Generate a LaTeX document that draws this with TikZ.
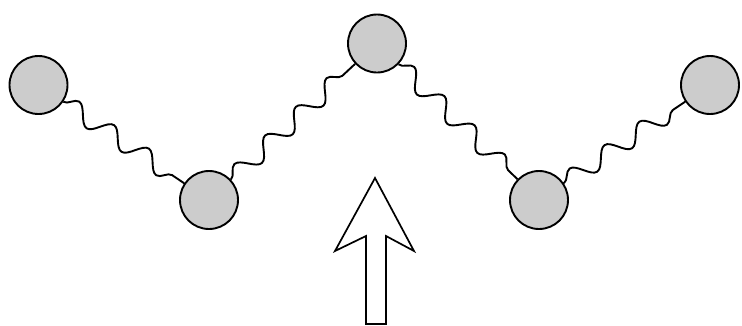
\documentclass[tikz,border=0pt]{standalone}
\usetikzlibrary{decorations.pathmorphing}
\begin{document}
\begin{tikzpicture}[x=1pt,y=-1pt,
  ball/.style={circle,draw=black,line width=1.9pt,fill=black!20,minimum size=58pt,inner sep=0pt},
  spring/.style={line width=1.9pt,decorate,decoration={snake,segment length=42pt,amplitude=9pt}},
  bigarrow/.style={draw=black,line width=1.7pt,fill=white,line join=miter}]
\useasboundingbox (0,0) rectangle (742,325);
\node[ball] (b1) at (38.5,85) {};
\node[ball] (b2) at (209,200) {};
\node[ball] (b3) at (377,43.5) {};
\node[ball] (b4) at (539,200) {};
\node[ball] (b5) at (710,85) {};
\draw[spring] (b1) -- (b2);
\draw[spring] (b2) -- (b3);
\draw[spring] (b3) -- (b4);
\draw[spring] (b4) -- (b5);
\coordinate (tip) at (375,178);
\draw[bigarrow] (366,324) -- (366,236) -- (335,251) -- (tip) -- (414,251) -- (386,236) -- (386,324) -- cycle;
\end{tikzpicture}
\end{document}
